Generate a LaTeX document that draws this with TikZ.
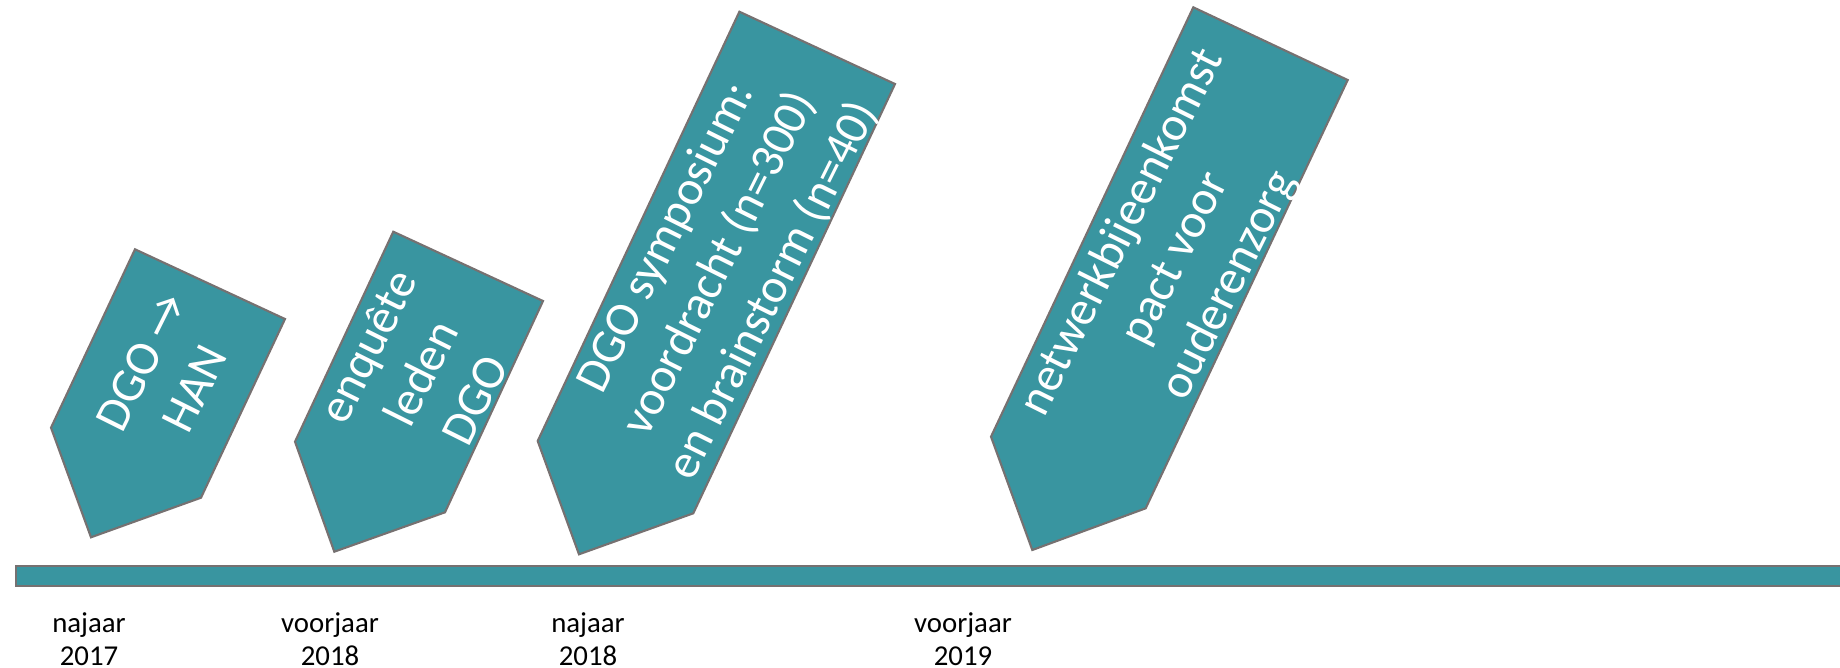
\documentclass[tikz,border=0pt]{standalone}
\usepackage{fontspec}
\setmainfont{Carlito}
\definecolor{petrol}{RGB}{57,149,160}
\definecolor{rand}{RGB}{118,113,113}

\begin{document}
\begin{tikzpicture}[x=0.02cm,y=-0.02cm,
  mijlpaal/.style={draw=rand, fill=petrol, line width=1.2pt},
  tekst/.style={text=white, align=center, rotate=63.5, inner sep=0pt, font=\fontsize{27.5}{34}\selectfont},
  datum/.style={align=center, inner sep=0pt, font=\fontsize{16.4}{18.5}\selectfont}]
\useasboundingbox (0,0) rectangle (1840,667);
% tijdlijn
\draw[mijlpaal] (16,566) rectangle (1850,586);
% mijlpalen
\draw[mijlpaal] (135,249.3) -- (285,319) -- (201,497.7) -- (91,537.3) -- (51,427.7) -- cycle;
\draw[mijlpaal] (393.3,231.7) -- (543,301) -- (445,512.3) -- (334.3,551.7) -- (295,441.7) -- cycle;
\draw[mijlpaal] (739.4,11.7) -- (895,84) -- (693.3,513.3) -- (579,554.3) -- (537.7,441) -- cycle;
\draw[mijlpaal] (1193.3,7.3) -- (1347.7,80) -- (1145.7,508.3) -- (1032.3,550) -- (991,436.7) -- cycle;
\node[tekst] (han) at (168,375) {DGO →\\HAN};
\node[tekst] (enquete) at (421,373) {enquête\\leden\\DGO};
\node[tekst] (symposium) at (720,264) {DGO symposium:\\voordracht (n=300)\\en brainstorm (n=40)};
\node[tekst] (pact) at (1176,259) {netwerkbijeenkomst\\pact voor\\ouderenzorg};
% data
\node[datum] (najaar17) at (89,639) {najaar\\2017};
\node[datum] (voorjaar18) at (330,639) {voorjaar\\2018};
\node[datum] (najaar18) at (588,639) {najaar\\2018};
\node[datum] (voorjaar19) at (963,639) {voorjaar\\2019};
\end{tikzpicture}
\end{document}
